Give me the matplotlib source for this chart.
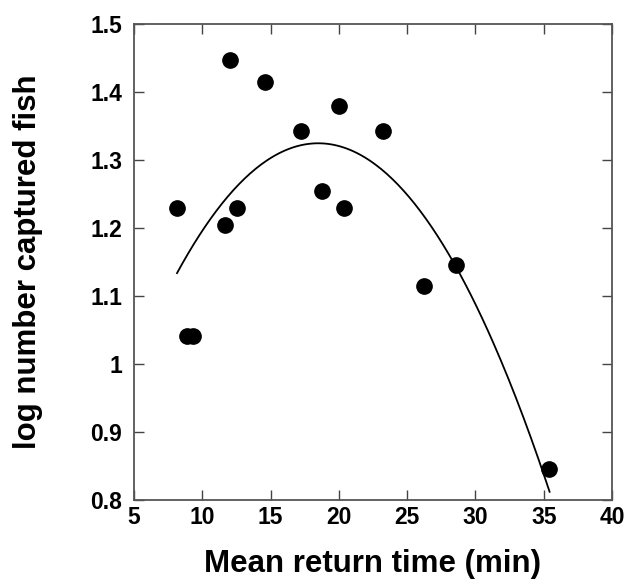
import matplotlib
matplotlib.use("Agg")
import matplotlib.pyplot as plt
import numpy as np

# Data
return_time = [8.12, 12.03, 14.61, 11.68, 12.52, 17.25, 19.99, 23.23, 18.76,
               20.35, 8.90, 9.30, 26.23, 28.57, 35.38]
log_fish = [1.230, 1.447, 1.415, 1.204, 1.230, 1.343, 1.379, 1.343, 1.255,
            1.230, 1.041, 1.041, 1.115, 1.146, 0.846]

# Quadratic fit curve parameters (vertex form)
curve_vertex_x = 18.49
curve_vertex_y = 1.3246
curve_a = -0.001786
curve_range = [8.15, 35.43]

xticks = [5, 10, 15, 20, 25, 30, 35, 40]
yticks = [0.8, 0.9, 1.0, 1.1, 1.2, 1.3, 1.4, 1.5]
yticklabels = ["0.8", "0.9", "1", "1.1", "1.2", "1.3", "1.4", "1.5"]

plt.rcParams['font.family'] = ['Liberation Sans', 'DejaVu Sans']

fig = plt.figure(figsize=(6.24, 5.81), dpi=100)
ax = fig.add_axes([134/624, 1-500/581, (612-134)/624, (500-24)/581])

xc = np.linspace(curve_range[0], curve_range[1], 200)
yc = curve_a * (xc - curve_vertex_x) ** 2 + curve_vertex_y
ax.plot(xc, yc, color='black', lw=1.3)
ax.plot(return_time, log_fish, 'o', color='black', ms=11, mec='black')

ax.set_xlim(5, 40)
ax.set_ylim(0.8, 1.5)
ax.set_xticks(xticks)
ax.set_yticks(yticks)
ax.set_yticklabels(yticklabels)
ax.tick_params(direction='in', length=7, width=1.0, color='#444444',
               top=True, right=True, labelsize=16.5)
ax.tick_params(axis='y', pad=8.5)
ax.tick_params(axis='x', pad=4.5)
for lab in ax.get_xticklabels() + ax.get_yticklabels():
    lab.set_fontweight('bold')
for s in ax.spines.values():
    s.set_color('#555555')
    s.set_linewidth(1.3)

ax.set_xlabel('Mean return time (min)', fontsize=22.5, fontweight='bold', labelpad=14)
ax.set_ylabel('log number captured fish', fontsize=22.5, fontweight='bold', labelpad=34)

fig.savefig('out.png', dpi=100)
